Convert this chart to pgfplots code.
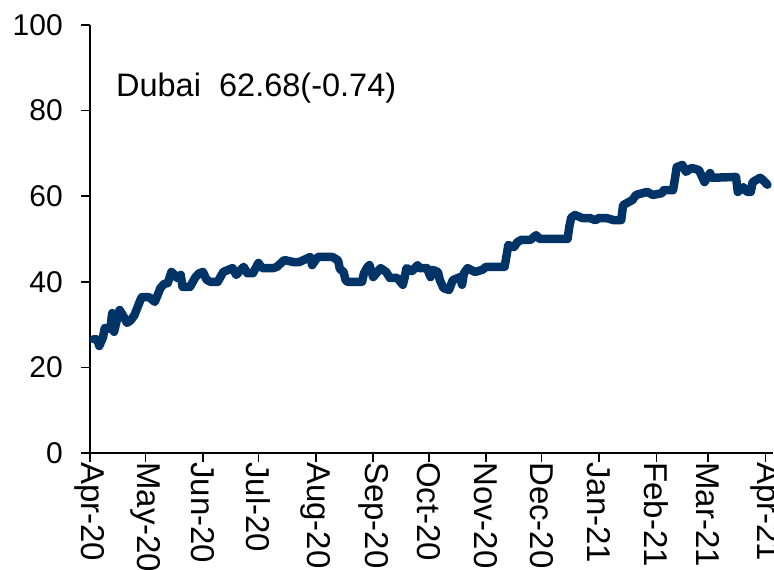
\documentclass[border=0pt]{standalone}
\usepackage{pgfplots}
\pgfplotsset{compat=1.18}
\usepackage{fontspec}
\setmainfont{Liberation Sans}
\definecolor{navy}{RGB}{0,51,102}

\begin{document}
\begin{tikzpicture}
\begin{axis}[
  name=ax,
  scale only axis, width=683pt, height=428pt,
  xmin=0, xmax=369, ymin=0, ymax=100,
  axis x line=bottom, axis y line=left,
  axis line style={-, line width=1.6pt, black},
  tick style={line width=1.6pt, black},
  tick align=outside, major tick length=9pt,
  xtick={0,30,61,91,122,153,183,214,244,275,306,334,365},
  xticklabels={Apr-20,May-20,Jun-20,Jul-20,Aug-20,Sep-20,Oct-20,Nov-20,Dec-20,Jan-21,Feb-21,Mar-21,Apr-21},
  ytick={0,20,...,100},
  xticklabel style={rotate=-90, anchor=west, inner sep=0pt, font=\fontsize{33}{33}\selectfont},
  yticklabel style={inner sep=0pt, xshift=-18pt, font=\fontsize{30}{30}\selectfont},
  /pgf/number format/assume math mode=true,
  clip=false,
]
\addplot[navy, line width=8.5pt, line join=round, line cap=round] coordinates {
(2,26.6)(4,26.5)(5,25.0)(7,27.0)(8,29.2)(11,29.0)(12,32.7)(13,28.3)(15,32.0)(16,33.4)
(18,32.0)(20,30.4)(22,31.0)(24,32.2)(27,35.5)(28,36.4)(32,36.4)(35,35.3)(37,37.4)(38,38.5)
(40,39.5)(42,39.7)(44,42.3)(46,41.5)(47,40.9)(49,41.6)(50,38.8)(54,38.8)(57,41.1)(59,42.0)
(61,42.3)(63,40.5)(65,40.0)(69,40.0)(72,42.3)(77,43.2)(79,41.6)(83,43.5)(85,42.0)(88,42.0)
(91,44.4)(93,43.2)(99,43.2)(101,43.5)(105,45.1)(110,44.6)(113,44.6)(119,45.8)(120,43.9)(123,45.8)
(131,45.8)(134,45.0)(135,43.0)(137,42.3)(138,40.5)(139,40.0)(147,40.0)(148,42.0)(150,43.5)(151,43.9)
(153,41.1)(157,43.2)(160,42.3)(162,40.9)(166,40.9)(169,39.3)(170,41.0)(171,43.2)(174,42.5)(177,43.9)
(178,43.2)(182,43.2)(184,41.1)(185,42.8)(188,42.3)(189,40.4)(191,38.5)(194,38.1)(196,40.4)(200,41.1)
(201,39.3)(202,42.0)(204,43.2)(208,42.3)(212,42.8)(214,43.5)(224,43.5)(225,46.0)(226,48.6)(229,48.1)
(231,49.3)(233,49.8)(238,49.8)(241,50.9)(243,50.0)(258,50.0)(259,53.0)(260,55.0)(262,55.6)(266,54.9)
(270,54.9)(273,54.4)(275,54.9)(279,54.9)(283,54.4)(287,54.4)(288,57.9)(293,59.1)(295,60.3)(301,61.0)
(304,60.3)(309,60.7)(310,61.4)(315,61.4)(316,64.0)(317,66.8)(320,67.3)(322,65.7)(325,66.6)(329,66.1)
(332,63.3)(335,65.4)(336,64.3)(349,64.5)(350,61.0)(353,62.1)(355,61.0)(357,61.0)(358,63.3)(362,64.3)
(363,64.0)(366,62.68)
};
\node[anchor=base west, inner sep=0pt, font=\fontsize{32.5}{32.5}\selectfont] at (axis cs:14,83.2) {Dubai\hspace{0.56em}62.68(-0.74)};
\end{axis}
\pgfresetboundingbox
\path ([shift={(-90pt,-116.5pt)}]ax.south west) rectangle ([shift={(1pt,25pt)}]ax.north east);
\end{tikzpicture}
\end{document}
